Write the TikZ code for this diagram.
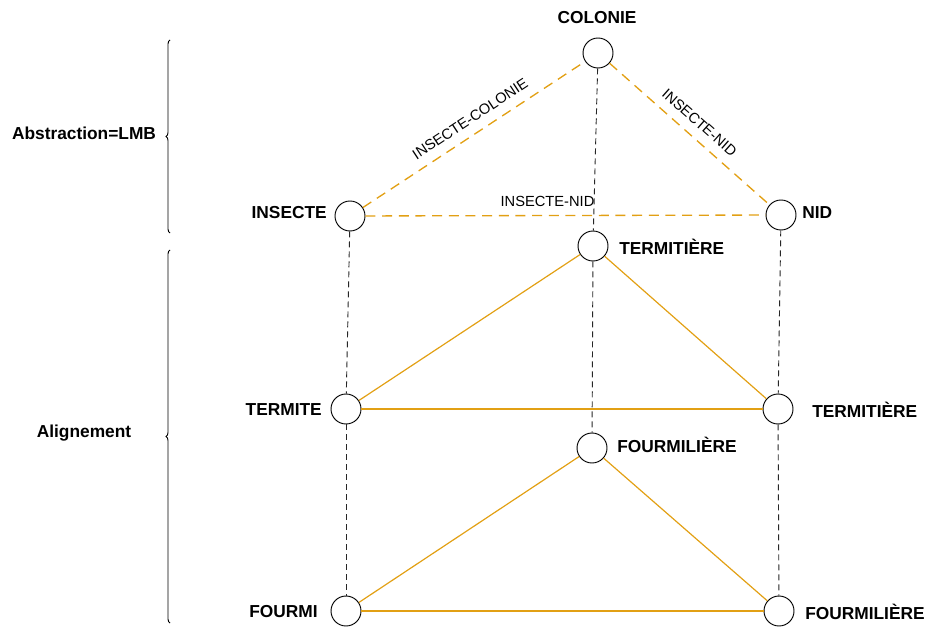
\documentclass[tikz,border=0pt]{standalone}
\usepackage{fontspec}
\setmainfont{Liberation Sans}
\usetikzlibrary{decorations.pathreplacing}
\definecolor{gold}{RGB}{226,160,20}
\begin{document}
\begin{tikzpicture}[x=0.75pt,y=-0.75pt,
 vert/.style={circle,draw,minimum size=22.5pt,inner sep=0pt,line width=0.7pt},
 lab/.style={font=\bfseries\fontsize{13}{15}\selectfont,inner sep=0pt},
 elab/.style={font=\fontsize{11}{13}\selectfont,inner sep=1pt},
 alignline/.style={dash pattern=on 4.5pt off 3pt, line width=0.7pt, black!85},
 absline/.style={gold, dash pattern=on 7.5pt off 5pt, line width=1pt},
 relline/.style={gold, line width=0.9pt},
 brc/.style={decorate, decoration={brace, amplitude=3pt}, line width=0.7pt}]
\useasboundingbox (0,0) rectangle (927,627);
% vertices
\node[vert] (col) at (598,53) {};
\node[vert] (ins) at (350,216) {};
\node[vert] (nid) at (781,215) {};
\node[vert] (tt) at (593,246) {};
\node[vert] (te) at (346,409) {};
\node[vert] (tr) at (778,409) {};
\node[vert] (ft) at (592,448) {};
\node[vert] (fo) at (346,611) {};
\node[vert] (fr) at (779,611) {};
% labels
\node[lab] (lcol) at (597,18) {COLONIE};
\node[lab,anchor=east] (lins) at (327,213) {INSECTE};
\node[lab,anchor=west] (lnid) at (802,213) {NID};
\node[lab,anchor=west] (ltt) at (619,247) {TERMITIÈRE};
\node[lab,anchor=east] (lte) at (322,410) {TERMITE};
\node[lab,anchor=west] (ltr) at (812,410) {TERMITIÈRE};
\node[lab,anchor=west] (lft) at (617,445) {FOURMILIÈRE};
\node[lab,anchor=east] (lfo) at (318,612) {FOURMI};
\node[lab,anchor=west] (lfr) at (805,612) {FOURMILIÈRE};
\node[lab] (labs) at (84,133) {Abstraction=LMB};
\node[lab] (lali) at (84,433) {Alignement};
% alignment lines
\draw[alignline] (col) -- (tt);
\draw[alignline] (tt) -- (ft);
\draw[alignline] (ins) -- (te);
\draw[alignline] (te) -- (fo);
\draw[alignline] (nid) -- (tr);
\draw[alignline] (tr) -- (fr);
% abstraction
\draw[absline] (ins) -- node[elab,sloped,above=6pt,pos=0.52,black] {INSECTE-COLONIE} (col);
\draw[absline] (col) -- node[elab,sloped,above=6pt,pos=0.5,black] {INSECTE-NID} (nid);
\draw[absline] (ins) -- node[elab,above=5pt,pos=0.455,black] {INSECTE-NID} (nid);
% relations
\draw[relline] (tt) -- (te);
\draw[relline] (tt) -- (tr);
\draw[relline] (te) -- (tr);
\draw[relline] (ft) -- (fo);
\draw[relline] (ft) -- (fr);
\draw[relline] (fo) -- (fr);
% braces
\coordinate (b1a) at (170,233);
\coordinate (b1b) at (170,40);
\coordinate (b2a) at (170,623);
\coordinate (b2b) at (170,250);
\draw[brc] (b1a) -- (b1b);
\draw[brc] (b2a) -- (b2b);
\end{tikzpicture}
\end{document}
